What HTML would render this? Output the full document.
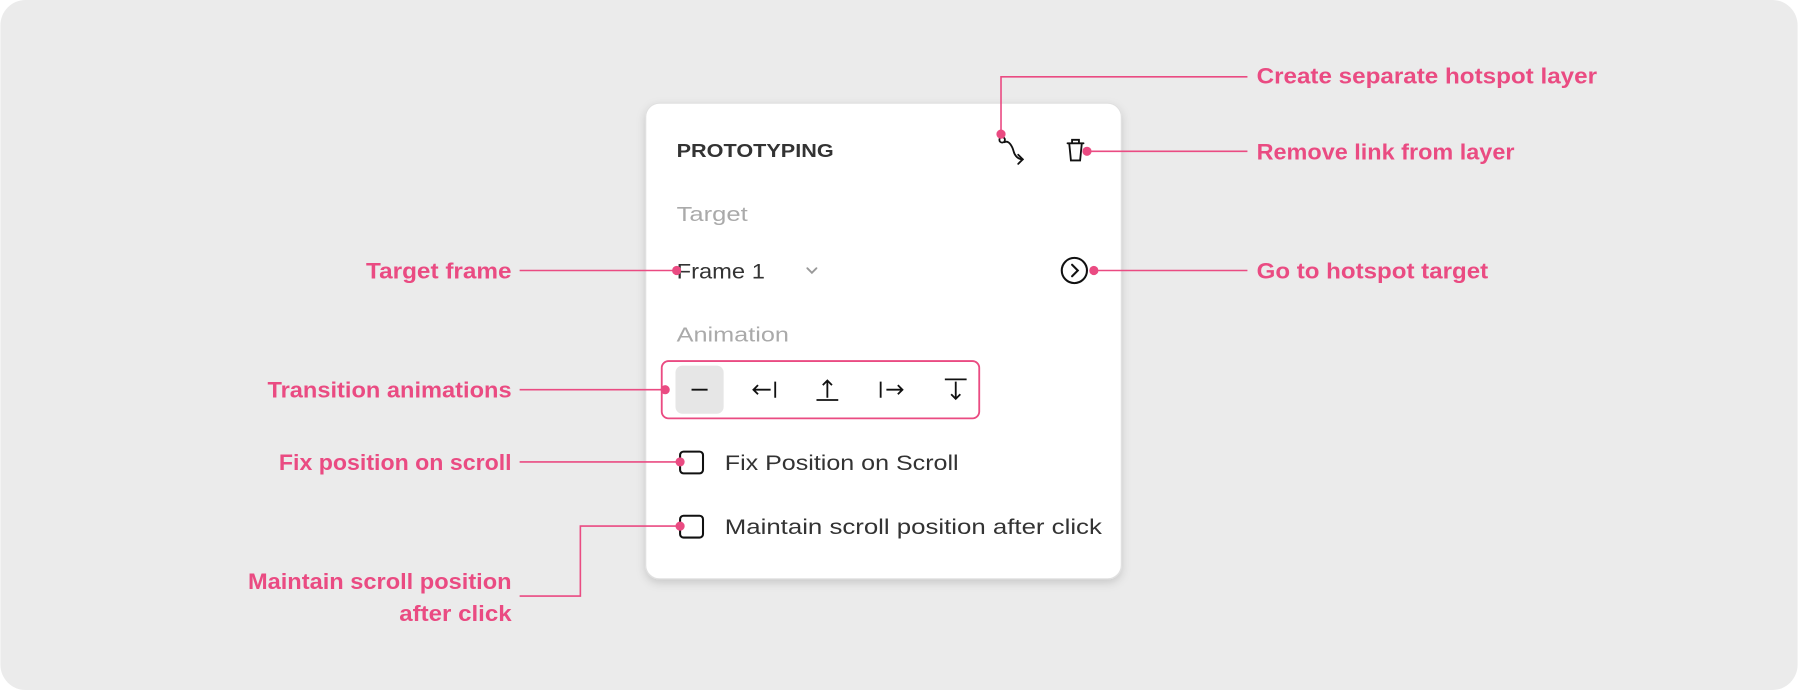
<!DOCTYPE html>
<html><head><meta charset="utf-8"><style>
html,body{margin:0;padding:0;background:#fff;}
svg{display:block;}
text{font-family:"Liberation Sans",sans-serif;}
</style></head><body>
<svg width="1798" height="690" viewBox="0 0 1568 602" xmlns="http://www.w3.org/2000/svg">
<defs>
<filter id="sh" x="-10%" y="-10%" width="120%" height="125%"><feDropShadow dx="0" dy="3" stdDeviation="4" flood-color="#000" flood-opacity="0.15"/></filter>
</defs>
<rect x="0" y="0" width="1568" height="602" rx="22" fill="#ebebeb"/>
<rect x="563" y="90" width="415" height="415" rx="12" fill="#fff" stroke="#e0e0e0" filter="url(#sh)"/>
<text x="590" y="137" font-size="16.5" font-weight="bold" fill="#333" textLength="137" lengthAdjust="spacingAndGlyphs">PROTOTYPING</text>
<g fill="none" stroke="#111" stroke-width="1.6" stroke-linecap="round">
<circle cx="874" cy="122" r="2.4"/>
<path d="M876 124 C880 122 883 128 884 132 C885 136 888 139 892 139"/>
<path d="M888 135 L892 139 L888 143"/>
<path d="M931 125 H945 M935 125 V122 H941 V125 M932.5 125 L934 140 H942 L943.5 125"/>
<path d="M704 234 L708 238 L712 234" stroke="#999"/>
<circle cx="937" cy="236" r="11" stroke-width="1.8"/>
<path d="M935 231 L940 236 L935 241" stroke-width="1.8"/>
</g>
<text x="590" y="193" font-size="18" fill="#aaa" textLength="62" lengthAdjust="spacingAndGlyphs">Target</text>
<text x="590" y="243" font-size="18.5" fill="#333" textLength="77" lengthAdjust="spacingAndGlyphs">Frame 1</text>
<text x="590" y="298" font-size="18" fill="#aaa" textLength="98" lengthAdjust="spacingAndGlyphs">Animation</text>
<rect x="577" y="315" width="277" height="50" rx="6" fill="none" stroke="#ea4b82" stroke-width="1.6"/>
<rect x="589" y="319" width="42" height="42" rx="6" fill="#e6e6e6"/>
<g fill="none" stroke="#111" stroke-width="1.6">
<path d="M603 340 H617"/>
<path d="M657 340 H672 M661 336 L657 340 L661 344 M676 333 V347"/>
<path d="M712 349 H731 M721.5 347 V332 M717.5 336 L721.5 332 L725.5 336"/>
<path d="M768 333 V347 M773 340 H787 M783 336 L787 340 L783 344"/>
<path d="M824 331 H843 M833.5 333 V348 M829.5 344 L833.5 348 L837.5 344"/>
<rect x="593" y="394" width="20" height="19" rx="3" stroke-width="1.8"/>
<rect x="593" y="450" width="20" height="19" rx="3" stroke-width="1.8"/>
</g>
<text x="632" y="410" font-size="18.5" fill="#333" textLength="204" lengthAdjust="spacingAndGlyphs">Fix Position on Scroll</text>
<text x="632" y="466" font-size="18.5" fill="#333" textLength="329" lengthAdjust="spacingAndGlyphs">Maintain scroll position after click</text>
<g stroke="#ea4b82" stroke-width="1.4" fill="none">
<path d="M453 236 H590"/>
<path d="M453 340 H579"/>
<path d="M453 403 H593"/>
<path d="M453 520 H506 V459 H593"/>
<path d="M873 117 V67 H1088"/>
<path d="M948 132 H1088"/>
<path d="M954 236 H1088"/>
</g>
<g fill="#ea4b82">
<circle cx="590" cy="236" r="4"/>
<circle cx="580" cy="340" r="4"/>
<circle cx="593" cy="403" r="4"/>
<circle cx="593" cy="459" r="4"/>
<circle cx="873" cy="117" r="4"/>
<circle cx="948" cy="132" r="4"/>
<circle cx="954" cy="236" r="4"/>
</g>
<g fill="#ea4b82" font-size="19.5" font-weight="bold">
<text x="319" y="243" textLength="127" lengthAdjust="spacingAndGlyphs">Target frame</text>
<text x="233" y="347" textLength="213" lengthAdjust="spacingAndGlyphs">Transition animations</text>
<text x="243" y="410" textLength="203" lengthAdjust="spacingAndGlyphs">Fix position on scroll</text>
<text x="216" y="514" textLength="230" lengthAdjust="spacingAndGlyphs">Maintain scroll position</text>
<text x="348" y="542" textLength="98" lengthAdjust="spacingAndGlyphs">after click</text>
<text x="1096" y="73" textLength="297" lengthAdjust="spacingAndGlyphs">Create separate hotspot layer</text>
<text x="1096" y="139" textLength="225" lengthAdjust="spacingAndGlyphs">Remove link from layer</text>
<text x="1096" y="243" textLength="202" lengthAdjust="spacingAndGlyphs">Go to hotspot target</text>
</g>
</svg>
</body></html>
